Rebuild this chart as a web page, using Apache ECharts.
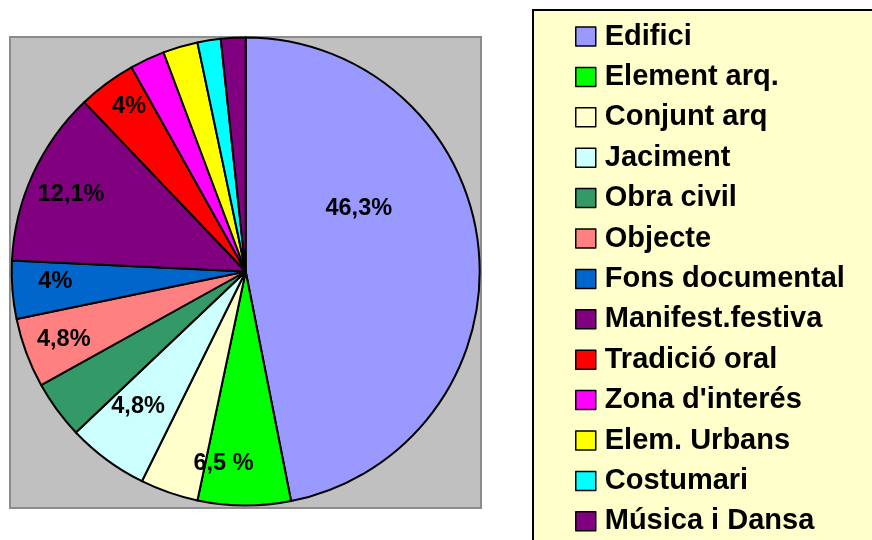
<!DOCTYPE html>
<html>
<head>
<meta charset="utf-8">
<script src="https://cdn.jsdelivr.net/npm/echarts@6/dist/echarts.min.js"></script>
<style>
html,body{margin:0;padding:0;background:#fff;}
#chart{width:872px;height:540px;}
</style>
</head>
<body>
<div id="chart"></div>
<script>
// ---- data ----
var categories = ['Edifici', 'Element arq.', 'Conjunt arq', 'Jaciment', 'Obra civil', 'Objecte',
  'Fons documental', 'Manifest.festiva', 'Tradició oral', "Zona d'interés", 'Elem. Urbans',
  'Costumari', 'Música i Dansa'];
var shares = [46.8, 6.4, 4.0, 5.6, 4.0, 4.8, 4.0, 12.1, 4.0, 2.4, 2.4, 1.6, 1.7];
var labelTexts = ['46,3%', '6,5 %', '', '4,8%', '', '4,8%', '4%', '12,1%', '4%', '', '', '', ''];

// ---- styles ----
var colors = ['#9999FF', '#00FF00', '#FFFFCC', '#CCFFFF', '#339966', '#FF8080', '#0066CC',
  '#800080', '#FF0000', '#FF00FF', '#FFFF00', '#00FFFF', '#800080'];
// label nudges [dx, dy] in px
var labelNudge = [[-79,-44],[-21,-1],null,[7,-20],null,[-1,1],[2,-5],[1,3],[-2,-10],null,null,null,null];

var FONT = '"Liberation Sans", Arial, Helvetica, sans-serif';
var CENTER = [245.7, 271.5];
var R = 234;

var chart = echarts.init(document.getElementById('chart'), null, {renderer: 'canvas'});

var pieData = categories.map(function (c, i) {
  return {name: c, value: shares[i], itemStyle: {color: colors[i]}};
});
var labelData = categories.map(function (c, i) {
  var d = {name: c, value: shares[i]};
  if (labelTexts[i]) {
    var n = labelNudge[i] || [0, 0];
    d.label = {show: true, formatter: labelTexts[i], offset: [n[0], n[1]]};
  } else {
    d.label = {show: false};
  }
  return d;
});

chart.setOption({
  animation: false,
  backgroundColor: '#ffffff',
  graphic: [{
    type: 'rect', z: 0, silent: true,
    shape: {x: 10, y: 37, width: 471, height: 471},
    style: {fill: '#C0C0C0', stroke: '#8C8C8C', lineWidth: 2}
  }],
  legend: {
    orient: 'vertical',
    left: 533, top: 10,
    height: 600,
    padding: [12, 60, 40, 42],
    backgroundColor: '#FFFFCC',
    borderColor: '#000000',
    borderWidth: 2,
    itemWidth: 20, itemHeight: 19,
    itemGap: 11.4,
    icon: 'rect',
    itemStyle: {borderColor: '#000000', borderWidth: 1.5},
    selectedMode: false,
    textStyle: {fontFamily: FONT, fontSize: 29, fontWeight: 'bold', color: '#000', lineHeight: 28, padding: [0, 0, 0, 4]},
    data: categories
  },
  series: [{
    type: 'pie',
    z: 2,
    center: CENTER,
    radius: R,
    startAngle: 90,
    clockwise: true,
    avoidLabelOverlap: false,
    silent: true,
    label: {show: false},
    labelLine: {show: false},
    itemStyle: {borderColor: '#000000', borderWidth: 2},
    emphasis: {disabled: true},
    data: pieData
  }, {
    type: 'pie',
    z: 3,
    center: CENTER,
    radius: [146, R],
    startAngle: 90,
    clockwise: true,
    avoidLabelOverlap: false,
    silent: true,
    legendHoverLink: false,
    itemStyle: {color: 'rgba(0,0,0,0)', borderWidth: 0},
    label: {show: true, position: 'inside', fontFamily: FONT, fontSize: 23.5, fontWeight: 'bold', color: '#000'},
    labelLine: {show: false},
    emphasis: {disabled: true},
    data: labelData
  }]
});
</script>
</body>
</html>
